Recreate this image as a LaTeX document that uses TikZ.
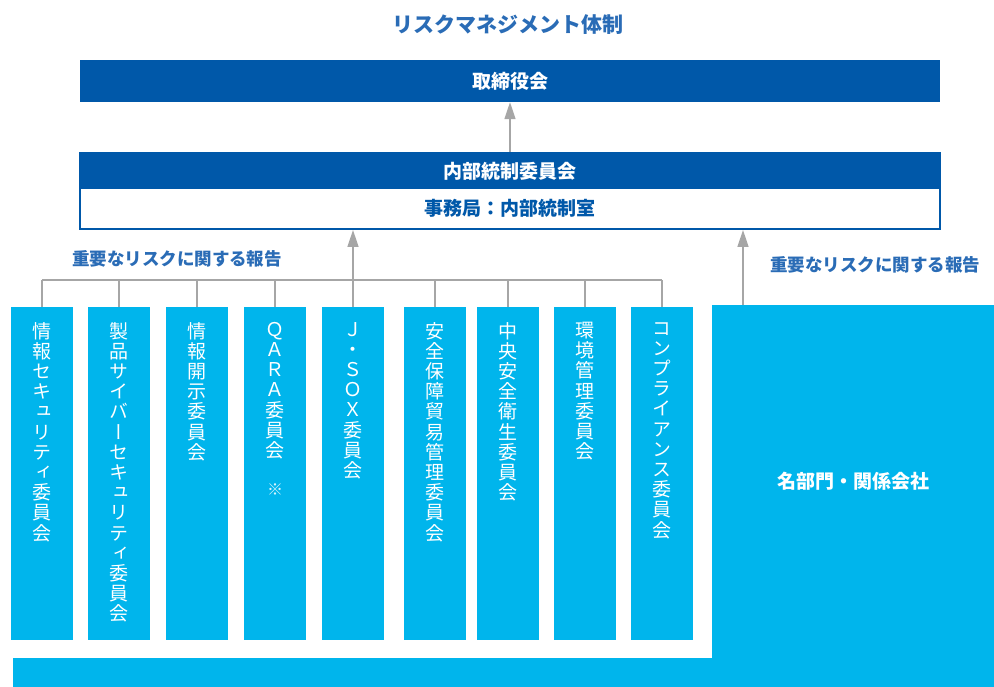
\documentclass[tikz,border=0pt]{standalone}
\usepackage{fontspec}
\usetikzlibrary{arrows.meta}
\newfontfamily\jp{Noto Sans CJK JP}
\newfontfamily\jpv[RawFeature=+vert]{Noto Sans CJK JP}
\definecolor{dkblue}{HTML}{0058A9}
\definecolor{cyanbox}{HTML}{00B5EC}
\definecolor{lnk}{HTML}{A6A6A6}
\definecolor{lblblue}{HTML}{2A6CB6}
\tikzset{
  bluebar/.style={fill=dkblue, draw=none, inner sep=0pt, minimum width=860pt,
    text=white, font=\jp\bfseries\fontsize{19}{20}\selectfont},
  colbox/.style={fill=cyanbox, draw=none, inner sep=0pt, minimum width=62pt,
    minimum height=333pt, anchor=north},
  coltext/.style={anchor=north, inner sep=0pt, align=center, text=white,
    font=\jpv\fontsize{19}{20.2}\selectfont},
  reportlbl/.style={text=lblblue, inner sep=0pt, font=\jp\bfseries\fontsize{17.5}{18}\selectfont},
  linkline/.style={draw=lnk, line width=1.6pt},
  uparrow/.style={draw=lnk, line width=1.6pt, -{Triangle[length=17pt,width=11pt]}}
}
\begin{document}
\begin{tikzpicture}[x=1pt,y=-1pt]
\useasboundingbox (0,0) rectangle (994,687);
% title
\node[text=lblblue, inner sep=0pt, font=\jp\bfseries\fontsize{21}{22}\selectfont] (title) at (508,25) {リスクマネジメント体制};
% board
\node[bluebar, minimum height=42pt] (board) at (510,81) {取締役会};
% internal control committee
\node[draw=dkblue, line width=2pt, fill=white, minimum width=860pt, minimum height=76pt, inner sep=0pt] (ic) at (510,191) {};
\node[bluebar, minimum height=36pt] (icband) at (510,171) {内部統制委員会};
\node[text=dkblue, inner sep=0pt, font=\jp\bfseries\fontsize{19}{20}\selectfont] (icsec) at (510,208) {事務局：内部統制室};
\draw[uparrow] (ic.north -| board) -- (board.south);
% labels
\node[reportlbl] (lblL) at (177,259) {重要なリスクに関する報告};
\node[reportlbl] (lblR) at (875,265) {重要なリスクに関する報告};
% columns
\node[colbox] (c1) at (42,307) {};
\node[colbox] (c2) at (119,307) {};
\node[colbox] (c3) at (197,307) {};
\node[colbox] (c4) at (275,307) {};
\node[colbox] (c5) at (353,307) {};
\node[colbox] (c6) at (435,307) {};
\node[colbox] (c7) at (508,307) {};
\node[colbox] (c8) at (585,307) {};
\node[colbox] (c9) at (662,307) {};
\node[coltext] (t1) at ([yshift=-15pt]c1.north) {情\\報\\セ\\キ\\ュ\\リ\\テ\\ィ\\委\\員\\会};
\node[coltext] (t2) at ([yshift=-15pt]c2.north) {製\\品\\サ\\イ\\バ\\ー\\セ\\キ\\ュ\\リ\\テ\\ィ\\委\\員\\会};
\node[coltext] (t3) at ([yshift=-15pt]c3.north) {情\\報\\開\\示\\委\\員\\会};
\node[coltext] (t4) at ([yshift=-15pt]c4.north) {Ｑ\\Ａ\\Ｒ\\Ａ\\委\\員\\会\\[18pt]{\fontsize{16}{16}\selectfont\color{white!85!cyanbox}※}};
\node[coltext] (t5) at ([yshift=-15pt]c5.north) {Ｊ\\・\\Ｓ\\Ｏ\\Ｘ\\委\\員\\会};
\node[coltext] (t6) at ([yshift=-15pt]c6.north) {安\\全\\保\\障\\貿\\易\\管\\理\\委\\員\\会};
\node[coltext] (t7) at ([yshift=-15pt]c7.north) {中\\央\\安\\全\\衛\\生\\委\\員\\会};
\node[coltext] (t8) at ([yshift=-15pt]c8.north) {環\\境\\管\\理\\委\\員\\会};
\node[coltext] (t9) at ([yshift=-15pt]c9.north) {コ\\ン\\プ\\ラ\\イ\\ア\\ン\\ス\\委\\員\\会};
% departments (L-shaped area)
\fill[cyanbox] (13,658) rectangle (994,687);
\node[fill=cyanbox, inner sep=0pt, minimum width=282pt, minimum height=353pt, text=white,
  font=\jp\bfseries\fontsize{19}{20}\selectfont] (dept) at (853,481.5) {名部門・関係会社};
% bus
\coordinate (bus) at (0,280);
\coordinate (rx) at (743,0);
\foreach \i in {1,...,9} {\draw[linkline] (c\i.north) -- (c\i.north |- bus);}
\draw[linkline] (c1.north |- bus) -- (c9.north |- bus);
\draw[uparrow] (c5.north |- bus) -- (ic.south -| c5.north);
\draw[uparrow] (dept.north -| rx) -- (ic.south -| rx);
\end{tikzpicture}
\end{document}
